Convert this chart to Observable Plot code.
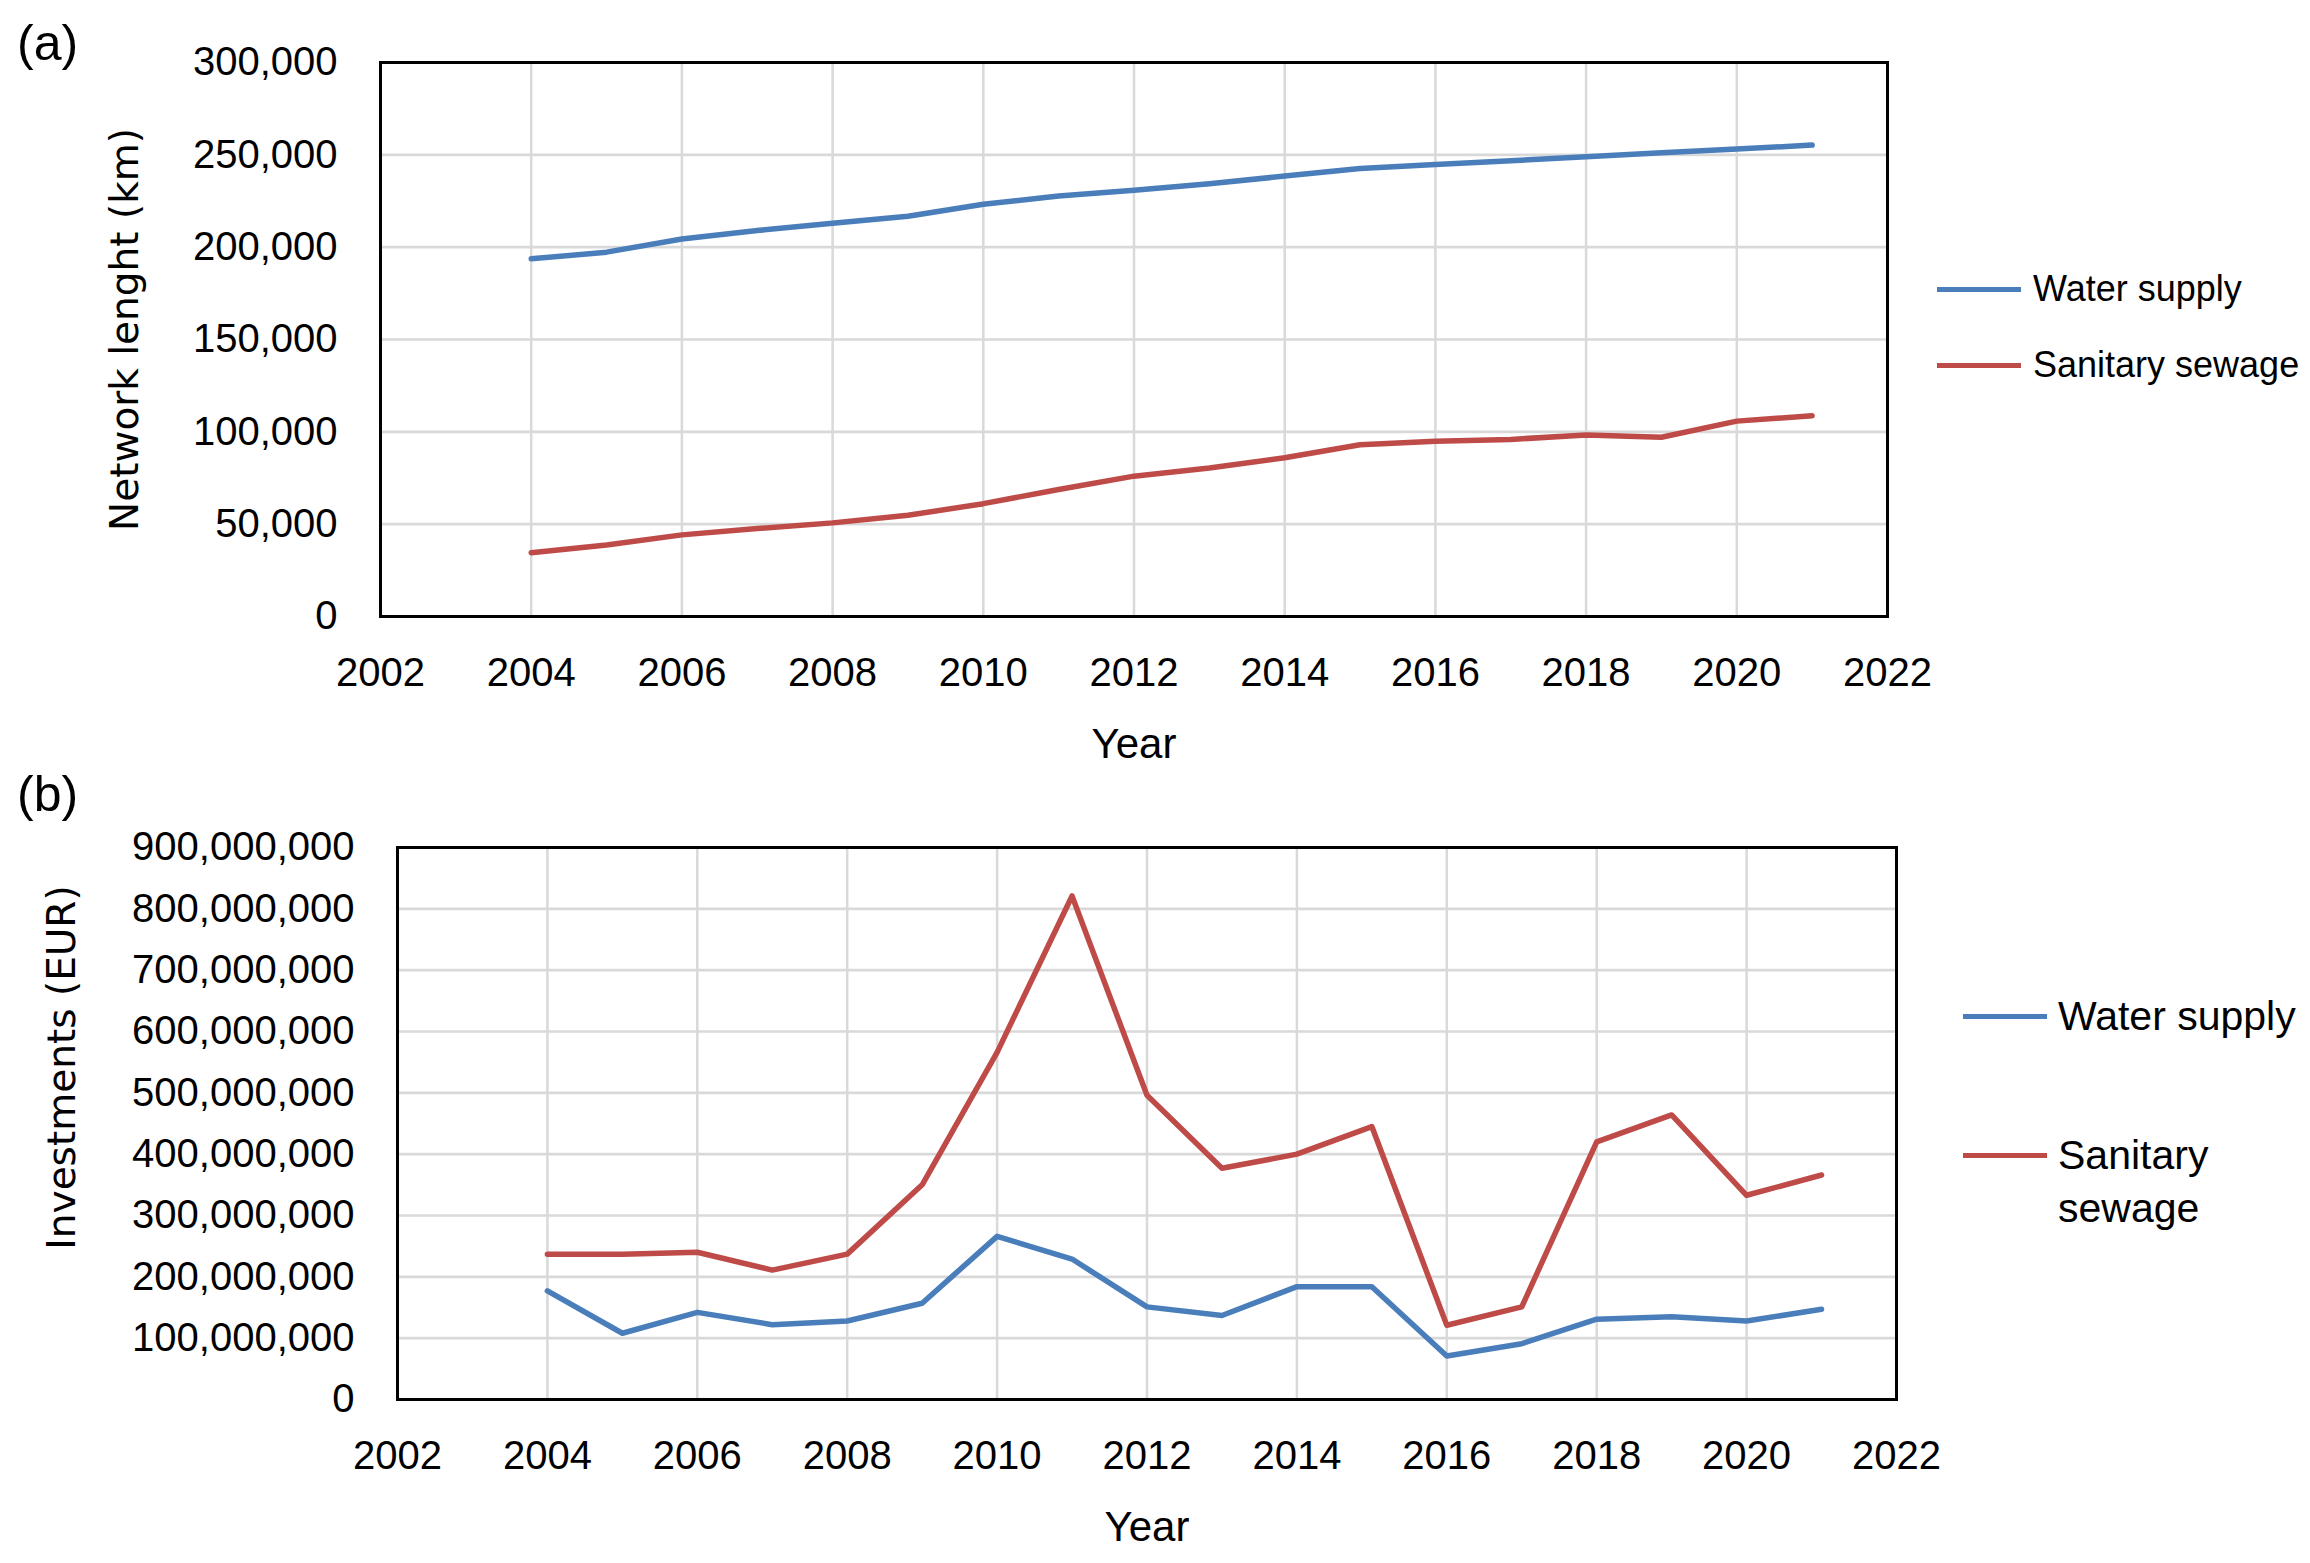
<!DOCTYPE html>
<html>
<head>
<meta charset="utf-8">
<script src="https://cdn.jsdelivr.net/npm/d3@7"></script>
<script src="https://cdn.jsdelivr.net/npm/@observablehq/plot@0.6"></script>
<style>
  html, body { margin: 0; padding: 0; background: #fff; }
  #wrap { position: relative; width: 2310px; height: 1563px; background: #fff; color: #000; overflow: hidden; }
  .abs { position: absolute; }
  .panel-tag { font-family: "Liberation Sans", Arial, sans-serif; font-size: 50px; line-height: 1; }
  .legend-item { position: absolute; display: flex; align-items: flex-start; white-space: nowrap; font-family: "Liberation Sans", Arial, sans-serif; color: #000; }
  .legend-swatch { display: inline-block; height: 5px; }
</style>
</head>
<body>
<div id="wrap"></div>
<script>
// ---- data ----
const years = [2004, 2005, 2006, 2007, 2008, 2009, 2010, 2011, 2012, 2013, 2014, 2015, 2016, 2017, 2018, 2019, 2020, 2021];
const waterLength  = [193700, 197300, 204400, 209000, 213000, 216700, 223200, 227700, 230800, 234300, 238500, 242600, 244700, 246800, 249000, 251100, 253100, 255300];
const sewageLength = [34500, 38700, 44200, 47600, 50700, 54800, 61100, 68800, 76000, 80400, 86000, 93000, 94900, 95900, 98300, 97100, 105800, 108700];
const waterInvest  = [177e6, 108e6, 142e6, 122e6, 128e6, 157e6, 266e6, 229e6, 151e6, 137e6, 184e6, 184e6, 71e6, 91e6, 131e6, 135e6, 128e6, 147e6];
const sewageInvest = [237e6, 237e6, 240e6, 211e6, 237e6, 350e6, 566e6, 821e6, 496e6, 377e6, 400e6, 445e6, 121e6, 151e6, 420e6, 464e6, 333e6, 366e6];
const seriesNames = ["Water supply", "Sanitary sewage"];
const seriesColors = ["#4a7ebb", "#be4b48"];
const xTicks = [2002, 2004, 2006, 2008, 2010, 2012, 2014, 2016, 2018, 2020, 2022];
const yTicksA = [0, 50000, 100000, 150000, 200000, 250000, 300000];
const yTicksB = [0, 100e6, 200e6, 300e6, 400e6, 500e6, 600e6, 700e6, 800e6, 900e6];

const sans = '"Liberation Sans", Arial, sans-serif';
const wide = '"DejaVu Sans", Verdana, sans-serif';

function tidy(a, b) {
  const out = [];
  years.forEach((yr, i) => {
    out.push({year: yr, value: a[i], series: seriesNames[0]});
    out.push({year: yr, value: b[i], series: seriesNames[1]});
  });
  return out;
}

function makeChart({data, yDomain, yTicks, yLabel, marginLeft, marginRight, width, height, marginTop, marginBottom, yLabelOffset, yLabelShift}) {
  return Plot.plot({
    width, height, marginLeft, marginRight, marginTop, marginBottom,
    style: {background: "white", color: "black", overflow: "visible"},
    x: {domain: [2002, 2022]},
    y: {domain: yDomain},
    marks: [
      Plot.gridX(xTicks, {stroke: "#d9d9d9", strokeOpacity: 1, strokeWidth: 2.5}),
      Plot.gridY(yTicks, {stroke: "#d9d9d9", strokeOpacity: 1, strokeWidth: 2.7}),
      Plot.frame({stroke: "black", strokeWidth: 3}),
      Plot.axisX(xTicks, {tickSize: 0, tickPadding: 41, fontSize: 40, fontFamily: sans, tickFormat: d => String(d), label: null}),
      Plot.axisY(yTicks, {tickSize: 0, tickPadding: 43, fontSize: 40, fontFamily: sans, tickFormat: d3.format(","), label: null}),
      Plot.line(data.filter(d => d.series === seriesNames[0]), {x: "year", y: "value", stroke: seriesColors[0], strokeWidth: 5.5}),
      Plot.line(data.filter(d => d.series === seriesNames[1]), {x: "year", y: "value", stroke: seriesColors[1], strokeWidth: 5.5}),
      Plot.text([yLabel], {text: d => d, frameAnchor: "left", textAnchor: "middle", lineAnchor: "middle", dx: -yLabelOffset, dy: yLabelShift, rotate: -90, fontSize: 39, fontFamily: wide, fill: "black"}),
      Plot.text(["Year"], {text: d => d, frameAnchor: "bottom", textAnchor: "middle", lineAnchor: "middle", dy: 128, fontSize: 42, fontFamily: sans, fill: "black"})
    ]
  });
}

const wrap = document.getElementById("wrap");

// Panel (a)
const chartA = makeChart({
  data: tidy(waterLength, sewageLength),
  yDomain: [0, 300000], yTicks: yTicksA, yLabel: "Network lenght (km)",
  width: 1920, height: 780, marginLeft: 380, marginRight: 33, marginTop: 62, marginBottom: 164,
  yLabelOffset: 255, yLabelShift: -10
});
chartA.classList.add("abs");
chartA.style.left = "0px"; chartA.style.top = "0px";
wrap.appendChild(chartA);

// Panel (b)
const chartB = makeChart({
  data: tidy(waterInvest, sewageInvest),
  yDomain: [0, 900e6], yTicks: yTicksB, yLabel: "Investments (EUR)",
  width: 1920, height: 778, marginLeft: 397, marginRight: 24, marginTop: 62, marginBottom: 164,
  yLabelOffset: 335, yLabelShift: -56
});
chartB.classList.add("abs");
chartB.style.left = "0px"; chartB.style.top = "785px";
wrap.appendChild(chartB);

// Panel tags
function tag(text, left, top) {
  const d = document.createElement("div");
  d.className = "abs panel-tag";
  d.textContent = text;
  d.style.left = left + "px"; d.style.top = top + "px";
  wrap.appendChild(d);
}
tag("(a)", 17, 18);
tag("(b)", 17, 769);

// Legends
function legendItem(color, lineLeft, lineWidth, gap, centerY, fontSize, lineHeight, lines) {
  const item = document.createElement("div");
  item.className = "legend-item";
  item.style.left = lineLeft + "px";
  item.style.top = (centerY - lineHeight / 2) + "px";
  const sw = document.createElement("span");
  sw.className = "legend-swatch";
  sw.style.width = lineWidth + "px";
  sw.style.background = color;
  sw.style.marginTop = (lineHeight / 2 - 2.5) + "px";
  const tx = document.createElement("span");
  tx.style.fontSize = fontSize + "px";
  tx.style.lineHeight = lineHeight + "px";
  tx.style.marginLeft = gap + "px";
  tx.innerHTML = lines.join("<br>");
  item.appendChild(sw); item.appendChild(tx);
  wrap.appendChild(item);
}
legendItem(seriesColors[0], 1937, 84, 12, 289, 36, 44, ["Water supply"]);
legendItem(seriesColors[1], 1937, 84, 12, 365, 36, 44, ["Sanitary sewage"]);
legendItem(seriesColors[0], 1963, 84, 11, 1016, 41, 53, ["Water supply"]);
legendItem(seriesColors[1], 1963, 84, 11, 1155, 41, 53, ["Sanitary", "sewage"]);
</script>
</body>
</html>
